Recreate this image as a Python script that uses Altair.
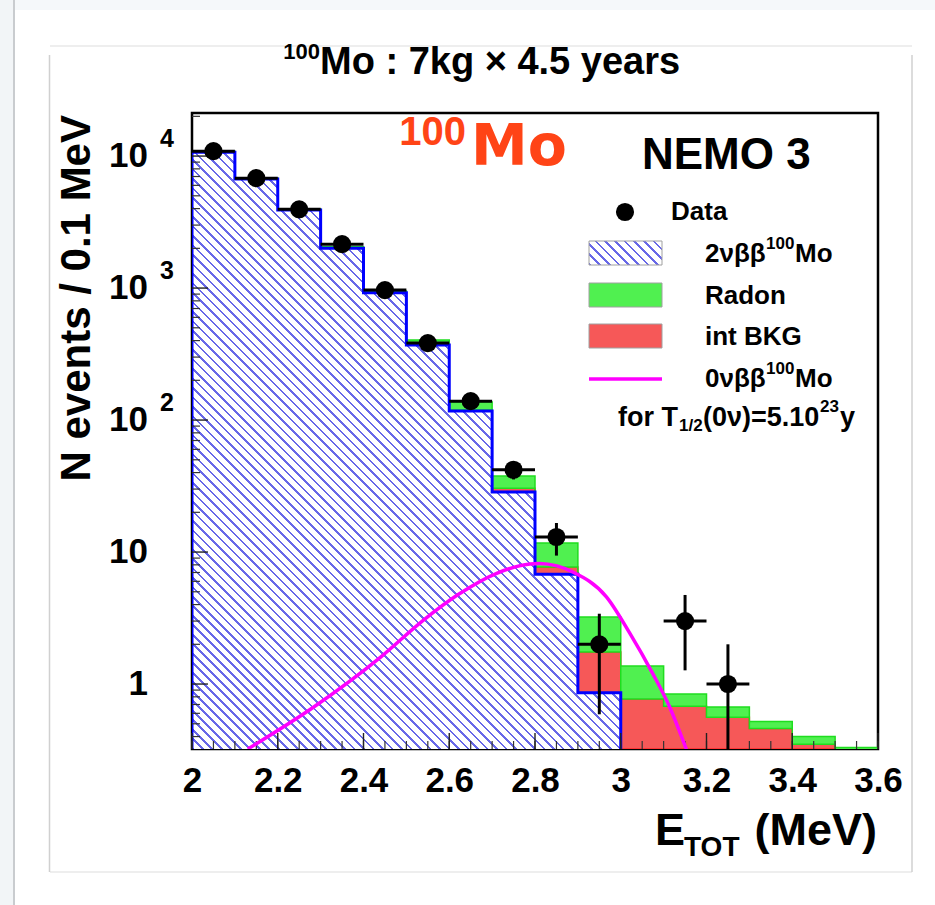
import math
import altair as alt
import pandas as pd

# ---------------- values ----------------
bin_edges = [2.0, 2.1, 2.2, 2.3, 2.4, 2.5, 2.6, 2.7, 2.8, 2.9, 3.0,
             3.1, 3.2, 3.3, 3.4, 3.5, 3.6]
twonu_mc = [10700, 6700, 3900, 2000, 920, 370, 117, 28.5, 6.8, 0.86,
            0, 0, 0, 0, 0, 0]
int_bkg = [20, 15, 10, 8, 6, 4, 2, 2.0, 0.9, 0.89,
           0.77, 0.68, 0.56, 0.46, 0.35, 0.28]
radon = [150, 100, 70, 50, 25, 30, 18, 7.2, 4.0, 1.47,
         0.6, 0.16, 0.11, 0.06, 0.05, 0.05]

data_energy = [2.05, 2.15, 2.25, 2.35, 2.45, 2.55, 2.65, 2.75, 2.85, 2.95, 3.15, 3.25]
data_counts = [10900, 6800, 3950, 2150, 965, 383, 139, 42, 13, 2, 3, 1]
data_errors = [104, 82, 63, 46, 31, 19.6, 11.8, 6.5, 3.6, 1.41, 1.73, 1.0]

zeronu_energy = [2.13, 2.284, 2.44, 2.54, 2.619, 2.712, 2.788, 2.81, 2.851,
                 2.888, 2.967, 3.021, 3.074, 3.114, 3.153]
zeronu_counts = [0.322, 0.67, 1.60, 3.05, 4.72, 6.93, 8.13, 8.2, 7.85,
                 7.06, 4.56, 2.43, 1.21, 0.67, 0.32]

x_label_values = [2.0, 2.2, 2.4, 2.6, 2.8, 3.0, 3.2, 3.4, 3.6]
x_minor_ticks = [2.0 + 0.05 * i for i in range(33)]
y_major_ticks = [1, 10, 100, 1000, 10000]
y_label_main = ["1", "10", "10", "10", "10"]
y_label_exp = ["", "", "2", "3", "4"]
y_minor_ticks = ([0.4, 0.5, 0.6, 0.7, 0.8, 0.9]
                 + [m * d for d in (1, 10, 100, 1000) for m in range(2, 10)]
                 + [20000])

# ---------------- geometry ----------------
W, H = 686, 636
OX, OY = 192, 113
Y_MIN, Y_MAX = 0.322, 21200
FONT = "Liberation Sans, Arial, Helvetica, sans-serif"
WIDE = "DejaVu Sans, Verdana, sans-serif"
HATCH = "#6868e8"

xscale = alt.Scale(domain=[2.0, 3.6], nice=False, zero=False)
yscale = alt.Scale(type="log", domain=[Y_MIN, Y_MAX], nice=False)
xaxis = alt.Axis(values=x_label_values, format=".1~f", labelFont=FONT,
                 labelFontWeight="bold", labelFontSize=35, labelColor="black",
                 labelPadding=14, ticks=False, domain=False, grid=False,
                 title=None, labelFlush=False, labelOverlap=False)


def X(f):
    return alt.X(f, type="quantitative", scale=xscale, axis=xaxis)


def Y(f):
    return alt.Y(f, type="quantitative", scale=yscale, axis=None)


def ypix(v):
    lo, hi = math.log10(Y_MIN), math.log10(Y_MAX)
    return H * (hi - math.log10(v)) / (hi - lo)


def hatch(w, h, period_px, frac, color):
    k = (w + h) / (w * w + h * h)
    a, b = k * w, k * h
    n = max(1, round((w + h) / period_px))
    stops = []
    for i in range(n):
        t0, t1, t2 = i / n, (i + frac) / n, (i + 1) / n
        stops += [alt.GradientStop(color=color, offset=t0),
                  alt.GradientStop(color=color, offset=t1),
                  alt.GradientStop(color="white", offset=t1),
                  alt.GradientStop(color="white", offset=t2)]
    return alt.LinearGradient(gradient="linear", stops=stops,
                              x1=0, y1=1, x2=a, y2=1 - b)


# ---------------- tables ----------------
c1 = list(twonu_mc)
c2 = [a + b for a, b in zip(c1, int_bkg)]
c3 = [a + b for a, b in zip(c2, radon)]
hist = pd.DataFrame({"x": bin_edges,
                     "c1f": [max(v, Y_MIN) for v in c1] + [max(c1[-1], Y_MIN)],
                     "c2": c2 + [c2[-1]],
                     "c3": c3 + [c3[-1]]})
nb = sum(1 for v in twonu_mc if v > 0)
blue_df = pd.DataFrame({"x": bin_edges[:nb + 1],
                        "y": twonu_mc[:nb] + [twonu_mc[nb - 1]],
                        "floor": Y_MIN})
outline_df = pd.DataFrame({
    "x": [bin_edges[0]] + bin_edges[:nb + 1] + [bin_edges[nb]],
    "y": [Y_MIN] + twonu_mc[:nb] + [twonu_mc[nb - 1]] + [Y_MIN]})
outline_df["idx"] = range(len(outline_df))

pts = pd.DataFrame({"E": data_energy, "N": data_counts, "err": data_errors})
pts["lo"] = [max(n - e, Y_MIN) for n, e in zip(data_counts, data_errors)]
pts["hi"] = [n + e for n, e in zip(data_counts, data_errors)]
pts["xl"] = pts["E"] - 0.05
pts["xr"] = pts["E"] + 0.05

curve = pd.DataFrame({"E": zeronu_energy, "N": zeronu_counts})
ylab = pd.DataFrame({"v": y_major_ticks, "main": y_label_main, "sup": y_label_exp})
one = pd.DataFrame({"k": [0]})

# ---------------- helpers for annotations ----------------


def txt(s, x, y, size, color="black", align="left", baseline="alphabetic",
        font=FONT, weight="bold", angle=None):
    kw = dict(text=s, fontSize=size, font=font, fontWeight=weight,
              color=color, align=align, baseline=baseline)
    if angle is not None:
        kw["angle"] = angle
    return alt.Chart(one).mark_text(**kw).encode(
        x=alt.value(x - OX), y=alt.value(y - OY))


def box(x0, y0, x1, y1, fill, stroke=None, sw=0):
    kw = dict(fill=fill, opacity=1)
    if stroke:
        kw.update(stroke=stroke, strokeWidth=sw)
    return alt.Chart(one).mark_rect(**kw).encode(
        x=alt.value(x0 - OX), x2=alt.value(x1 - OX),
        y=alt.value(y0 - OY), y2=alt.value(y1 - OY))


def seg(x0, y0, x1, y1, color, sw):
    return alt.Chart(one).mark_rule(color=color, strokeWidth=sw).encode(
        x=alt.value(x0 - OX), x2=alt.value(x1 - OX),
        y=alt.value(y0 - OY), y2=alt.value(y1 - OY))


# ---------------- page decorations ----------------
deco = [
    box(0, 0, 935, 10, "#f5f8fa"),
    box(0, 0, 14, 905, "#f2f5f7"),
    seg(14, 0, 14, 905, "#c9cccf", 2),
    seg(50, 46, 912, 46, "#eeeeee", 2),
    seg(50, 872, 912, 872, "#eeeeee", 2),
    seg(49.5, 55, 49.5, 872, "#d0d0d0", 1.5),
    seg(912, 55, 912, 872, "#d0d0d0", 1.5),
]

# ---------------- histogram layers ----------------
bw = W * (bin_edges[nb] - 2.0) / 1.6
bh = H - ypix(twonu_mc[0])
blue_fill = hatch(bw, bh, 9.5, 0.27, HATCH)

blue_area = alt.Chart(blue_df).mark_area(
    interpolate="step-after", fill=blue_fill, opacity=1, clip=True).encode(
    x=X("x"), y=Y("y"), y2=alt.Y2("floor"))

red_area = alt.Chart(hist).mark_area(
    interpolate="step-after", fill="#f65858", stroke="#ff2a2a",
    strokeWidth=1.5, opacity=1, clip=True).encode(
    x=X("x"), y=Y("c2"), y2=alt.Y2("c1f"))

green_area = alt.Chart(hist).mark_area(
    interpolate="step-after", fill="#50f050", stroke="#1fdd1f",
    strokeWidth=1.5, opacity=1, clip=True).encode(
    x=X("x"), y=Y("c3"), y2=alt.Y2("c2"))

blue_line = alt.Chart(outline_df).mark_line(
    interpolate="step-after", color="#0000ff", strokeWidth=3, clip=True).encode(
    x=X("x"), y=Y("y"), order=alt.Order("idx:Q"))

# ---------------- ticks ----------------
x_minor = alt.Chart(pd.DataFrame({"v": x_minor_ticks})).mark_rule(
    color="#333333", strokeWidth=1.2).encode(
    x=X("v"), y=alt.value(H), y2=alt.value(H - 8))
x_major = alt.Chart(pd.DataFrame({"v": x_label_values})).mark_rule(
    color="#222222", strokeWidth=1.4).encode(
    x=X("v"), y=alt.value(H), y2=alt.value(H - 16))
y_minor = alt.Chart(pd.DataFrame({"v": y_minor_ticks})).mark_rule(
    color="#333333", strokeWidth=1.2).encode(
    y=Y("v"), x=alt.value(0), x2=alt.value(8))
y_major = alt.Chart(pd.DataFrame({"v": y_major_ticks})).mark_rule(
    color="#222222", strokeWidth=1.4).encode(
    y=Y("v"), x=alt.value(0), x2=alt.value(16))

ylab_main = alt.Chart(ylab).mark_text(
    font=FONT, fontWeight="bold", fontSize=35, align="right",
    baseline="middle", color="black").encode(
    x=alt.value(148 - OX), y=Y("v"), text="main:N")
ylab_sup = alt.Chart(ylab[ylab["sup"] != ""]).mark_text(
    font=FONT, fontWeight="bold", fontSize=25, align="left",
    baseline="middle", dy=-17, color="black").encode(
    x=alt.value(160 - OX), y=Y("v"), text="sup:N")

# ---------------- signal curve and data ----------------
magenta = alt.Chart(curve).mark_line(
    color="#ff00ff", strokeWidth=3.5, interpolate="monotone", clip=True).encode(
    x=X("E"), y=Y("N"))

err_v = alt.Chart(pts).mark_rule(color="black", strokeWidth=3, clip=True).encode(
    x=X("E"), y=Y("lo"), y2=alt.Y2("hi"))
err_h = alt.Chart(pts).mark_rule(color="black", strokeWidth=3, clip=True).encode(
    x=X("xl"), x2=alt.X2("xr"), y=Y("N"))
dots = alt.Chart(pts).mark_point(
    shape="circle", filled=True, size=330, color="black", opacity=1).encode(
    x=X("E"), y=Y("N"))

# ---------------- texts ----------------
texts = [
    txt("Mo : 7kg \u00d7 4.5 years", 320, 74, 38),
    txt("100", 320, 59, 22, align="right"),
    txt("Mo", 471, 165, 57, color="#ff4416", font=WIDE),
    txt("100", 466, 145, 40, color="#ff4416", align="right"),
    txt("NEMO 3", 642, 169, 44),
    txt("N events / 0.1 MeV", 90, 115, 42, align="right", angle=270),
    txt("E", 655, 845, 45),
    txt("TOT", 684, 856, 28),
    txt("(MeV)", 877, 845, 45, align="right"),
]

# ---------------- legend ----------------
legend = [
    alt.Chart(one).mark_point(shape="circle", filled=True, size=330,
                              color="black", opacity=1).encode(
        x=alt.value(625 - OX), y=alt.value(212 - OY)),
    txt("Data", 671, 212, 26, baseline="middle"),
    box(589, 241, 662, 265, hatch(73, 24, 9.5, 0.27, HATCH), "#a0a0a0", 1),
    txt("2\u03bd\u03b2\u03b2", 705, 254, 26, baseline="middle"),
    txt("100", 766, 244, 17, baseline="middle"),
    txt("Mo", 795, 254, 26, baseline="middle"),
    box(589, 283, 662, 307, "#50f050", "#a0a0a0", 1),
    txt("Radon", 705, 296, 26, baseline="middle"),
    box(589, 324, 662, 348, "#f65858", "#a0a0a0", 1),
    txt("int BKG", 705, 337, 26, baseline="middle"),
    seg(589, 379, 662, 379, "#ff00ff", 3.5),
    txt("0\u03bd\u03b2\u03b2", 705, 379, 26, baseline="middle"),
    txt("100", 766, 369, 17, baseline="middle"),
    txt("Mo", 795, 379, 26, baseline="middle"),
    txt("for T", 618, 418, 27, baseline="middle"),
    txt("1/2", 679, 426, 17, baseline="middle"),
    txt("(0\u03bd)=5.10", 703, 418, 27, baseline="middle"),
    txt("23", 820, 407, 17, baseline="middle"),
    txt("y", 840, 418, 27, baseline="middle"),
]

layers = (deco + [blue_area, red_area, green_area, blue_line,
                  x_minor, x_major, y_minor, y_major, ylab_main, ylab_sup,
                  magenta, err_v, err_h, dots] + texts + legend)

chart = alt.layer(*layers).properties(
    width=W, height=H,
    autosize=alt.AutoSizeParams(type="none"),
    padding={"left": OX, "top": OY, "right": 935 - OX - W, "bottom": 905 - OY - H},
    background="white",
).configure_view(stroke="black", strokeWidth=2.5)

chart.save("out.html", embed_options={"renderer": "svg", "actions": False})
